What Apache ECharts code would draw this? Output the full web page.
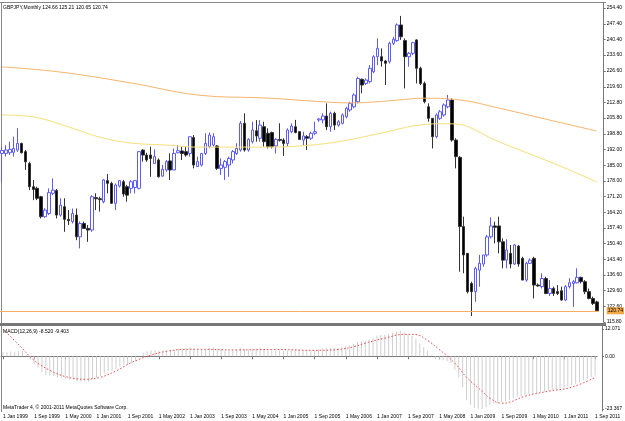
<!DOCTYPE html>
<html>
<head>
<meta charset="utf-8">
<script src="https://cdn.jsdelivr.net/npm/echarts@6/dist/echarts.min.js"></script>
<style>
  html, body { margin: 0; padding: 0; background: #fff; }
  #chart { width: 625px; height: 421px; }
</style>
</head>
<body>
<div id="chart"></div>
<script>
// monthly bars, Jan 1999 .. Sep 2011
var monthNames = ['Jan','Feb','Mar','Apr','May','Jun','Jul','Aug','Sep','Oct','Nov','Dec'];
var months = [];
for (var k = 0; k < 153; k++) {
  months.push('1 ' + monthNames[k % 12] + ' ' + (1999 + Math.floor(k / 12)));
}

var opens = [190.2,190.2,190.5,190.7,191.7,194.6,191.0,185.8,175.5,174.8,
  171.1,162.3,163.7,172.6,173.8,163.0,166.7,161.1,160.1,163.0,
  153.4,159.3,157.1,156.4,170.7,170.2,168.9,178.2,177.0,168.2,
  175.8,177.7,175.5,174.8,175.2,174.8,191.7,189.5,189.5,185.8,
  187.3,180.2,182.9,186.9,182.9,190.5,191.3,191.0,190.2,197.2,
  184.4,185.1,190.2,193.2,193.9,193.5,183.6,184.1,185.1,187.3,
  190.2,191.7,203.5,191.7,195.4,200.2,196.9,202.0,199.1,199.4,
  193.5,196.4,196.1,194.6,199.8,202.0,199.8,196.1,197.6,196.9,
  199.1,205.0,205.0,206.7,202.0,207.9,202.7,203.5,206.4,209.4,
  210.8,213.0,222.9,221.1,221.9,226.3,232.9,232.9,231.0,230.7,
  238.8,240.0,246.9,240.0,232.9,234.4,240.3,227.8,221.1,210.8,
  205.7,197.6,205.7,207.2,210.8,213.8,196.1,188.5,157.9,146.1,
  132.8,129.2,138.7,141.4,145.4,153.4,158.2,158.2,151.2,143.1,
  146.1,141.4,149.3,143.9,134.3,141.7,143.9,132.1,131.4,135.0,
  128.4,130.6,129.2,129.6,125.5,131.4,132.8,133.1,135.5,133.6,
  129.2,126.2,124.66];
var closes = [191.5,191.7,192.0,192.4,194.6,190.5,186.5,175.5,174.3,170.4,
  162.3,165.2,172.9,174.0,163.0,167.4,161.1,160.5,163.7,153.4,
  159.3,157.1,156.4,171.1,170.2,169.8,178.5,177.0,168.2,176.3,
  178.2,172.3,171.8,177.7,178.2,191.0,189.5,187.3,188.0,188.8,
  179.9,183.2,186.6,182.9,190.2,191.4,190.2,189.5,197.6,185.1,
  186.6,190.2,194.6,198.3,197.6,183.6,185.1,186.6,188.0,191.0,
  192.4,203.5,191.7,196.4,200.5,197.9,202.7,195.4,193.2,193.2,
  196.4,196.0,194.6,200.5,202.3,199.4,196.4,197.9,196.9,199.1,
  199.8,205.4,206.7,202.0,207.9,202.7,204.2,207.2,210.1,212.3,
  216.0,223.3,220.4,222.6,227.8,232.9,236.6,231.0,230.0,238.8,
  240.6,246.9,241.7,232.9,234.4,239.1,227.8,221.1,213.0,205.7,
  197.6,207.2,208.6,211.6,213.8,196.1,188.8,157.9,145.4,129.2,
  129.2,139.5,141.7,145.4,153.4,158.2,157.6,151.2,143.1,147.6,
  141.4,149.8,141.4,134.3,141.7,143.1,132.1,131.7,135.0,128.4,
  130.6,128.4,128.4,125.5,131.4,133.1,133.6,135.5,133.6,129.2,
  126.2,124.0,120.74];
var lows = [177.5,188.8,189.5,188.8,190.9,190.2,182.9,174.0,169.6,169.6,
  161.5,161.8,163.0,171.8,161.5,162.3,155.6,158.6,159.3,151.9,
  148.3,157.0,151.2,155.6,165.2,164.5,168.2,172.6,167.9,165.2,
  175.2,171.1,168.9,172.6,172.6,174.3,186.6,186.5,179.9,185.8,
  179.6,179.9,182.1,178.5,182.9,190.2,187.3,188.8,188.8,183.6,
  184.4,184.4,189.5,192.5,193.2,182.9,180.7,178.5,179.9,185.8,
  189.5,191.0,191.0,191.0,194.6,195.4,195.4,193.2,192.4,192.4,
  190.2,195.4,189.1,193.2,199.1,199.1,196.1,193.9,191.7,196.1,
  198.3,204.2,203.5,200.5,199.8,200.5,202.0,203.0,205.7,208.6,
  210.1,212.3,216.7,220.4,221.1,225.6,229.2,228.5,220.4,229.9,
  238.1,239.5,240.3,218.9,228.5,233.6,221.1,220.4,212.3,204.2,
  192.4,196.9,205.0,206.4,210.1,195.4,183.6,138.0,137.3,128.4,
  118.4,124.7,131.4,140.2,144.6,152.7,150.5,146.1,139.5,139.5,
  139.5,141.0,140.2,134.3,133.6,141.4,126.2,131.4,130.6,128.1,
  127.3,127.3,127.7,125.2,125.0,130.6,122.5,132.8,132.8,128.1,
  125.8,123.3,120.65];
var highs = [193.0,193.9,195.4,197.6,201.3,195.0,191.7,186.5,178.5,175.5,
  171.5,166.0,174.8,179.2,174.5,170.4,170.4,165.2,165.9,165.9,
  160.1,160.1,158.6,171.8,172.6,171.1,178.9,181.1,177.7,177.0,
  178.5,178.5,176.3,178.5,178.5,191.3,192.0,190.5,193.2,192.0,
  188.0,185.1,187.3,190.2,192.4,193.9,193.2,193.2,197.6,198.3,
  188.8,190.2,199.1,199.4,199.1,193.9,188.0,187.3,188.8,191.7,
  194.7,204.5,207.9,196.9,204.2,204.9,204.9,204.2,201.3,199.8,
  196.9,203.5,196.9,201.3,203.5,205.0,199.8,199.8,198.3,199.8,
  204.2,205.7,207.9,212.3,208.6,208.6,205.0,207.9,210.8,213.0,
  216.7,224.1,223.3,223.3,229.2,233.6,241.0,236.6,231.5,239.5,
  241.7,247.6,250.9,241.0,235.0,239.5,240.6,228.5,221.9,212.3,
  205.7,207.9,209.4,212.3,216.0,214.5,196.9,189.0,162.3,146.1,
  133.6,140.2,145.4,145.4,154.2,162.0,160.1,162.3,152.7,152.3,
  149.8,150.2,149.8,144.6,142.4,143.9,144.6,132.8,137.3,135.8,
  134.3,131.4,132.1,131.4,132.1,135.1,134.3,139.5,135.8,134.3,
  130.6,127.0,125.21];

// moving averages read at sample months [monthIndex, value]
var maSlow = [[0,228.4],[15,226.1],[33,221.3],[50,216.0],[68,214.6],[83,212.9],[89,212.5],
  [95,212.9],[104,214.2],[107,214.6],[117,213.8],[127,210.2],[142,204.1],[152,200.1]];
var maFast = [[0,207.2],[8,206.3],[17,201.9],[25,197.4],[33,194.8],[42,193.9],[50,193.0],
  [68,193.0],[79,193.9],[87,195.7],[97,199.2],[107,202.8],[113,203.3],[117,203.0],
  [121,200.5],[126,196.1],[142,185.1],[152,177.6]];

var macdMain = [1.8,2.0,2.1,2.0,2.4,2.2,0.6,-1.5,-3.5,-5.0,
  -7.0,-8.3,-8.5,-8.6,-9.4,-9.6,-10.0,-10.3,-10.4,-11.0,
  -11.3,-11.2,-11.3,-10.2,-9.4,-8.8,-7.6,-6.6,-6.4,-5.6,
  -4.5,-4.0,-3.8,-3.0,-2.2,0.2,1.6,2.2,2.6,2.8,
  2.4,2.3,2.5,2.4,2.9,3.3,3.5,3.5,4.0,3.4,
  2.9,2.8,3.1,3.7,4.0,3.4,2.9,2.6,2.5,2.6,
  2.8,3.6,3.2,3.0,3.3,3.4,3.7,3.4,3.0,2.7,
  2.6,2.6,2.4,2.6,2.8,2.9,2.7,2.6,2.5,2.6,
  2.7,3.1,3.4,3.5,3.8,3.8,3.8,4.0,4.4,4.9,
  5.4,6.2,6.6,6.9,7.5,8.3,9.2,9.4,9.4,9.9,
  10.5,11.0,11.3,10.7,10.0,9.0,7.8,5.6,4.0,2.5,
  0.3,-1.3,-1.6,-1.8,-2.2,-3.0,-6.0,-9.5,-13.7,-19.5,
  -21.5,-22.8,-23.2,-23.367,-22.6,-21.6,-21.0,-20.5,-20.3,-19.8,
  -19.4,-18.5,-18.0,-17.8,-17.3,-16.6,-16.5,-16.3,-15.9,-15.6,
  -15.2,-14.9,-14.6,-14.3,-13.8,-13.2,-12.8,-12.2,-11.5,-10.6,
  -9.9,-9.2,-8.52];
var macdSignal = [[0,12.0],[4,5.2],[8,-1.8],[12,-6.2],[16,-9.0],[21,-10.2],[25,-9.3],[29,-6.5],
  [33,-2.8],[38,0.5],[42,2.2],[46,3.0],[50,3.1],[60,2.8],[70,3.0],[80,2.6],[86,3.0],
  [90,4.2],[93,5.8],[98,8.0],[103,9.7],[106,9.6],[109,7.0],[112,3.0],[116,-3.1],
  [119,-9.3],[123,-15.5],[125,-18.6],[128,-20.8],[130,-20.4],[134,-17.7],[140,-15.5],
  [146,-13.7],[152,-9.403]];

var priceTicks = [254.4,247.4,240.4,233.6,226.6,219.6,212.8,205.8,198.8,192.0,185.0,
  178.0,171.2,164.2,157.4,150.4,143.4,136.6,129.6,122.6,115.8];
var macdTicks = [12.071, 0, -23.367];
var macdTickText = ['12.071', '0.00', '-23.367'];
var lastPrice = 120.74;

var candles = [];
for (var i = 0; i < months.length; i++) {
  candles.push([opens[i], closes[i], lows[i], highs[i]]);
}

var txt = { fontFamily: 'Liberation Sans, Arial, sans-serif', fontSize: 5, color: '#000' };

var dom = document.getElementById('chart');
var myChart = echarts.init(dom);
var option = {
  backgroundColor: '#fff',
  animation: false,
  title: [
    { text: 'GBPJPY,Monthly 124.66 125.21 120.65 120.74', left: 3, top: 5, padding: 0,
      textStyle: Object.assign({ fontWeight: 'normal' }, txt) },
    { text: 'MACD(12,26,9) -8.520 -9.403', left: 3, top: 329, padding: 0,
      textStyle: Object.assign({ fontWeight: 'normal' }, txt) },
    { text: 'MetaTrader 4, \u00a9 2001-2011 MetaQuotes Software Corp.', left: 3, top: 405, padding: 0,
      textStyle: Object.assign({ fontWeight: 'normal' }, txt) }
  ],
  grid: [
    { left: 0, top: 3, width: 600, height: 319 },
    { left: 0, top: 326, width: 600, height: 85 }
  ],
  xAxis: [
    { type: 'category', gridIndex: 0, data: months, boundaryGap: true,
      axisLine: { show: false }, axisTick: { show: false }, axisLabel: { show: false },
      splitLine: { show: false } },
    { type: 'category', gridIndex: 1, data: months, boundaryGap: true,
      axisLine: { show: true, lineStyle: { color: '#777', width: 1 } },
      axisTick: { show: true, interval: 7, alignWithLabel: true, length: 3, lineStyle: { color: '#777' } },
      axisLabel: Object.assign({ interval: 7, align: 'left', margin: 3 }, txt),
      splitLine: { show: false } }
  ],
  yAxis: [
    { type: 'value', gridIndex: 0, position: 'right', offset: 5, min: 115.8, max: 256.6,
      axisLine: { show: true, lineStyle: { color: '#777' } },
      axisTick: { show: true, length: 2, customValues: priceTicks, lineStyle: { color: '#777' } },
      axisLabel: Object.assign({ margin: 3, customValues: priceTicks,
        formatter: function (v) { return v.toFixed(2); } }, txt),
      splitLine: { show: false } },
    { type: 'value', gridIndex: 1, position: 'right', offset: 5, min: -24.25, max: 13.4,
      axisLine: { show: true, lineStyle: { color: '#777' } },
      axisTick: { show: true, length: 2, customValues: macdTicks, lineStyle: { color: '#777' } },
      axisLabel: Object.assign({ margin: 3, customValues: macdTicks,
        formatter: function (v) {
          var j = macdTicks.indexOf(v);
          return j >= 0 ? macdTickText[j] : '';
        } }, txt),
      splitLine: { show: false } }
  ],
  graphic: [
    { type: 'line', silent: true, shape: { x1: 0, y1: 2.5, x2: 606, y2: 2.5 },
      style: { stroke: '#888', lineWidth: 1 } },
    { type: 'line', silent: true, shape: { x1: 1.5, y1: 2, x2: 1.5, y2: 412 },
      style: { stroke: '#888', lineWidth: 1 } },
    { type: 'rect', silent: true, shape: { x: 0, y: 323, width: 606, height: 3 },
      style: { fill: '#777' } }
  ],
  series: [
    {
      name: 'GBPJPY', type: 'candlestick', xAxisIndex: 0, yAxisIndex: 0,
      data: candles, barWidth: 3,
      itemStyle: { color: '#ffffff', borderColor: '#5b5bff', color0: '#000000', borderColor0: '#333333', borderWidth: 1 },
      markLine: {
        silent: true, symbol: 'none',
        lineStyle: { color: '#f2b060', type: 'solid', width: 1 },
        label: { show: true, position: 'end', distance: 8, formatter: lastPrice.toFixed(2),
          backgroundColor: '#f2a848', color: '#000', padding: [1, 1],
          fontFamily: 'Liberation Sans, Arial, sans-serif', fontSize: 5 },
        data: [{ yAxis: lastPrice }]
      }
    },
    {
      name: 'MA slow', type: 'line', xAxisIndex: 0, yAxisIndex: 0, data: maSlow,
      smooth: 0.4, symbol: 'none', lineStyle: { color: '#f6b46c', width: 1 }
    },
    {
      name: 'MA fast', type: 'line', xAxisIndex: 0, yAxisIndex: 0, data: maFast,
      smooth: 0.4, symbol: 'none', lineStyle: { color: '#f8df78', width: 1 }
    },
    {
      name: 'MACD', type: 'bar', xAxisIndex: 1, yAxisIndex: 1, data: macdMain,
      barWidth: 1, itemStyle: { color: '#cfcfcf' }
    },
    {
      name: 'Signal', type: 'line', xAxisIndex: 1, yAxisIndex: 1, data: macdSignal,
      smooth: 0.4, symbol: 'none', lineStyle: { color: '#f04848', width: 1, type: [1.5, 2] }
    }
  ]
};
if (option && typeof option === 'object') {
  myChart.setOption(option, true);
}
</script>
</body>
</html>
